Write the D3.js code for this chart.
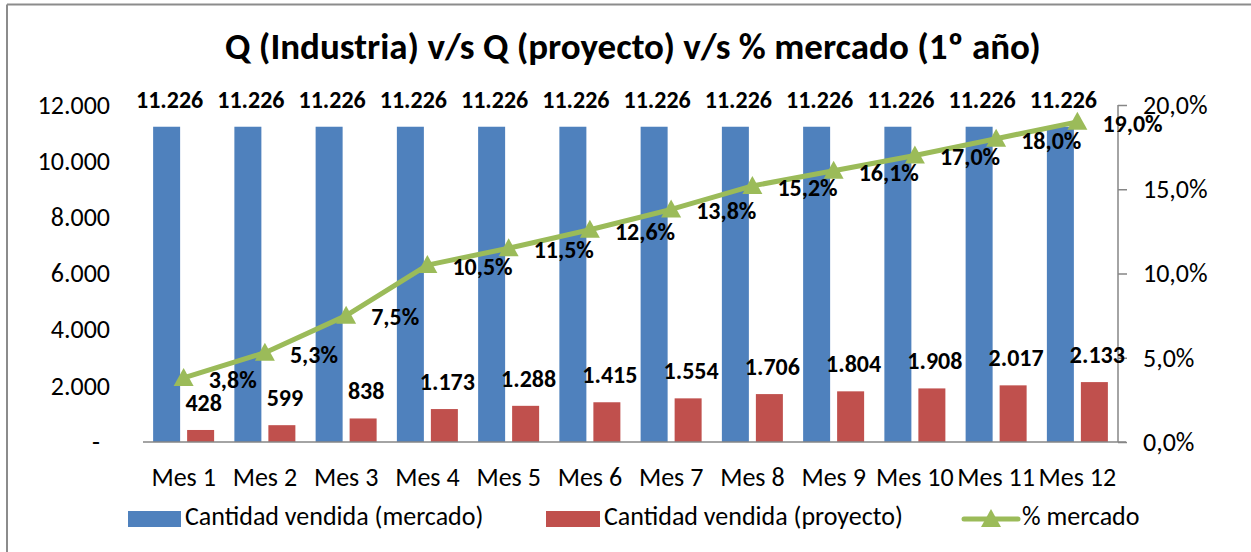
<!DOCTYPE html>
<html><head><meta charset="utf-8">
<script src="https://cdn.jsdelivr.net/npm/d3@7"></script>
<style>
body{margin:0;background:#fff;}
svg{display:block;}
text{font-family:Carlito, Calibri, Lato, sans-serif;}
</style></head>
<body><svg id="c" width="1251" height="552"></svg>
<script>
const categories = ["Mes 1","Mes 2","Mes 3","Mes 4","Mes 5","Mes 6","Mes 7","Mes 8","Mes 9","Mes 10","Mes 11","Mes 12"];
const mercado = [11226,11226,11226,11226,11226,11226,11226,11226,11226,11226,11226,11226];
const proyecto = [428,599,838,1173,1288,1415,1554,1706,1804,1908,2017,2133];
const pctMercado = [3.8,5.3,7.5,10.5,11.5,12.6,13.8,15.2,16.1,17.0,18.0,19.0];
const leftTicks = [0,2000,4000,6000,8000,10000,12000];
const rightTicks = [0,5,10,15,20];
const seriesNames = ["Cantidad vendida (mercado)","Cantidad vendida (proyecto)","% mercado"];
const title = "Q (Industria) v/s Q (proyecto) v/s % mercado (1º año)";

const colors = {blue:"#4F81BD", red:"#C0504D", green:"#9BBB59", axis:"#868686"};
const svg = d3.select("#c");
const L = 143, R = 1118, T = 105, B = 442;
const FONT = "Carlito, Calibri, Lato, sans-serif";

// outer frame (top and left visible)
svg.append("line").attr("x1",7).attr("x2",1251).attr("y1",4.5).attr("y2",4.5).attr("stroke","#8c8c8c").attr("stroke-width",2);
svg.append("line").attr("x1",7).attr("x2",7).attr("y1",4.5).attr("y2",552).attr("stroke","#8c8c8c").attr("stroke-width",2);

const x = d3.scaleBand().domain(categories).range([L,R]).padding(0);
const yL = d3.scaleLinear().domain([0,12000]).range([B,T]);
const yR = d3.scaleLinear().domain([0,20]).range([B,T]);
const fmtN = v => v===0 ? "-" : d3.format(",")(v).replace(/,/g,".");
const fmtP = v => v.toFixed(1).replace(".",",")+"%";

svg.append("text").attr("x",633).attr("y",50).attr("text-anchor","middle").attr("dominant-baseline","middle")
  .attr("font-size",37).attr("font-weight","bold").text(title);

const barW = 27, gap = 7;
const g = svg.append("g");
categories.forEach((c,i)=>{
  const cx = x(c) + x.bandwidth()/2;
  const bx = cx - gap/2 - barW, rx = cx + gap/2;
  g.append("rect").attr("x",bx).attr("width",barW).attr("y",yL(mercado[i])).attr("height",B-yL(mercado[i])).attr("fill",colors.blue);
  g.append("rect").attr("x",rx).attr("width",barW).attr("y",yL(proyecto[i])).attr("height",B-yL(proyecto[i])).attr("fill",colors.red);
});

// axes
const axL = svg.append("g").attr("transform",`translate(${L},0)`)
  .call(d3.axisLeft(yL).tickValues(leftTicks).tickSize(0).tickPadding(33).tickFormat(fmtN));
axL.select(".domain").remove();
axL.selectAll("text").attr("font-size",26).attr("fill","#000").attr("font-family",FONT)
  .attr("dx", d => d===0 ? -10 : 0);
const axR = svg.append("g").attr("transform",`translate(${R},0)`)
  .call(d3.axisRight(yR).tickValues(rightTicks).tickSize(9).tickPadding(16).tickFormat(fmtP));
axR.select(".domain").attr("stroke",colors.axis).attr("stroke-width",1.5).attr("d",`M0,${T}V${B}`);
axR.selectAll("line").attr("stroke",colors.axis).attr("stroke-width",1.5);
axR.selectAll("text").attr("font-size",26).attr("fill","#000").attr("font-family",FONT);
const axB = svg.append("g").attr("transform",`translate(0,${B})`)
  .call(d3.axisBottom(x).tickSize(0).tickPadding(26));
axB.select(".domain").attr("stroke",colors.axis).attr("stroke-width",1.5).attr("d",`M${L},0H${R+8}`);
axB.selectAll("text").attr("font-size",26).attr("fill","#000").attr("font-family",FONT);

// line
const pts = categories.map((c,i)=>[x(c)+x.bandwidth()/2, yR(pctMercado[i])]);
svg.append("path").attr("d",d3.line()(pts)).attr("fill","none").attr("stroke",colors.green).attr("stroke-width",5).attr("stroke-linejoin","round");
const tri = (cx,cy)=>`M${cx},${cy-10}L${cx+10},${cy+8}L${cx-10},${cy+8}Z`;
pts.forEach(p=>svg.append("path").attr("d",tri(p[0],p[1])).attr("fill",colors.green));

// data labels
categories.forEach((c,i)=>{
  const cx = x(c) + x.bandwidth()/2;
  const bcx = cx - gap/2 - barW/2, rcx = cx + gap/2 + barW/2;
  svg.append("text").attr("x",bcx+3).attr("y",yL(mercado[i])-25).attr("text-anchor","middle").attr("dominant-baseline","middle")
    .attr("font-size",24).attr("font-weight","bold").text(fmtN(mercado[i]));
  svg.append("text").attr("x",rcx+3).attr("y",yL(proyecto[i])-25).attr("text-anchor","middle").attr("dominant-baseline","middle")
    .attr("font-size",24).attr("font-weight","bold").text(fmtN(proyecto[i]));
  svg.append("text").attr("x",cx+25).attr("y",yR(pctMercado[i])+4).attr("text-anchor","start").attr("dominant-baseline","middle")
    .attr("font-size",24).attr("font-weight","bold").text(fmtP(pctMercado[i]));
});

// legend
const ly = 519;
const leg = svg.append("g");
leg.append("rect").attr("x",128).attr("y",ly-8).attr("width",53).attr("height",16).attr("fill",colors.blue);
leg.append("text").attr("x",185).attr("y",ly).attr("dominant-baseline","middle").attr("font-size",26).text(seriesNames[0]);
leg.append("rect").attr("x",546).attr("y",ly-8).attr("width",54).attr("height",16).attr("fill",colors.red);
leg.append("text").attr("x",604).attr("y",ly).attr("dominant-baseline","middle").attr("font-size",26).text(seriesNames[1]);
leg.append("line").attr("x1",964).attr("x2",1018).attr("y1",ly).attr("y2",ly).attr("stroke",colors.green).attr("stroke-width",5).attr("stroke-linecap","round");
leg.append("path").attr("d",tri(991,ly)).attr("fill",colors.green);
leg.append("text").attr("x",1022).attr("y",ly).attr("dominant-baseline","middle").attr("font-size",26).text(seriesNames[2]);
</script></body></html>
